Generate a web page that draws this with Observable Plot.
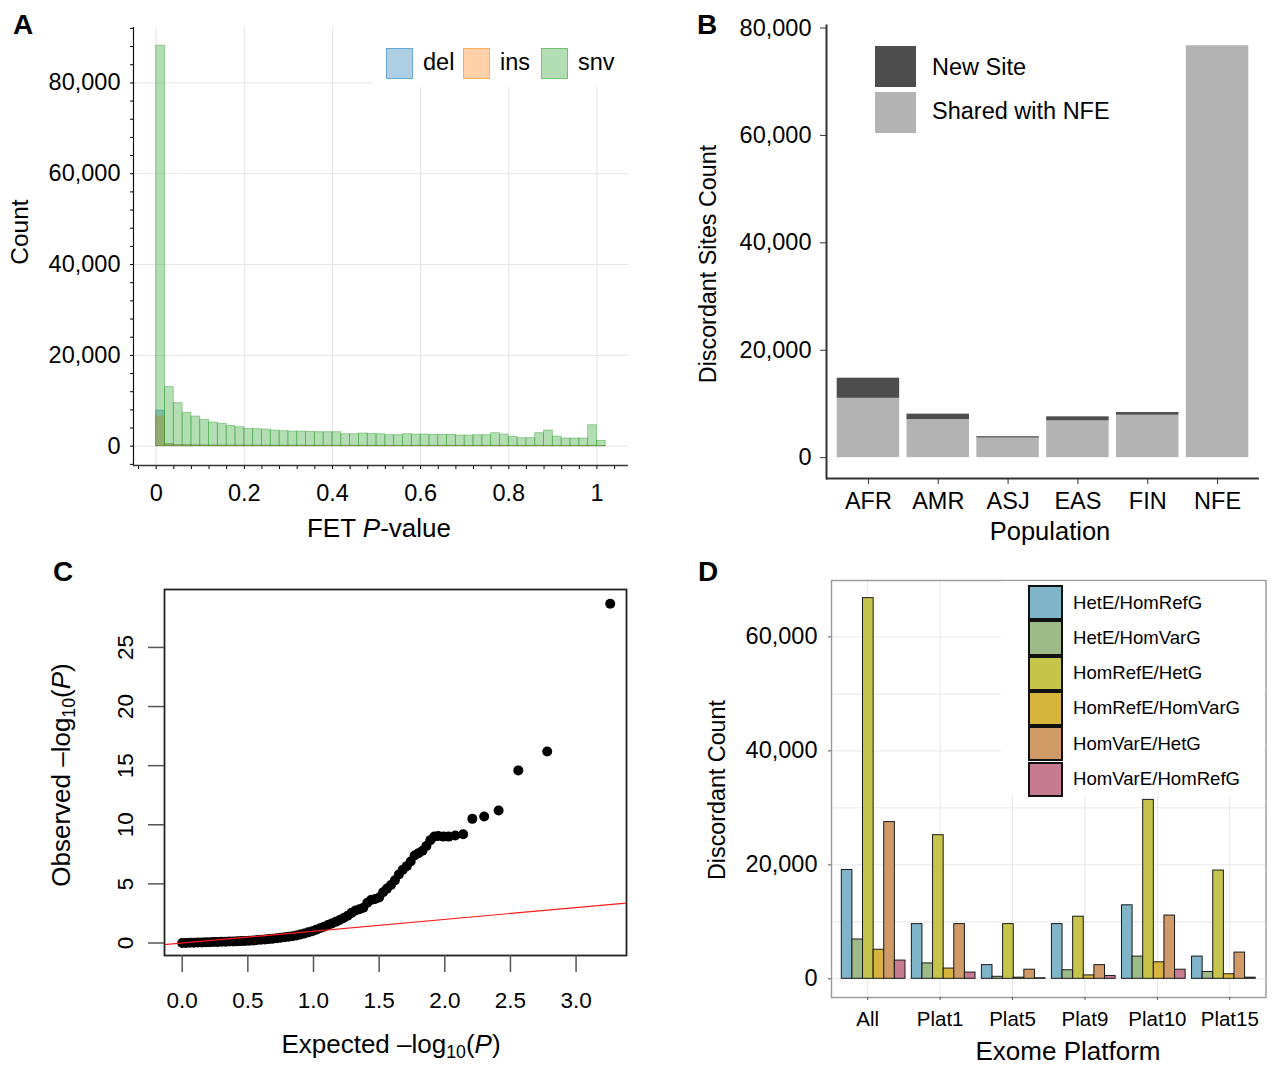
<!DOCTYPE html>
<html>
<head>
<meta charset="utf-8">
<script src="https://cdn.jsdelivr.net/npm/d3@7"></script>
<script src="https://cdn.jsdelivr.net/npm/@observablehq/plot@0.6"></script>
<style>
  body { margin: 0; background: #fff; }
  #fig { position: relative; width: 1280px; height: 1075px; overflow: hidden; background: #fff;
         font-family: "Liberation Sans", Arial, Helvetica, sans-serif; color: #000; }
  #fig sub { font-size: 0.68em; vertical-align: -0.28em; line-height: 0; }
</style>
</head>
<body>
<div id="fig"></div>
<script>
// ---------------- Panel A: FET P-value histogram ----------------
const histTypes = ["del", "ins", "snv"];
const histBase = ["#1f77b4", "#ff7f0e", "#2ca02c"];
const binWidth = 0.02;
const snvCounts = [88200, 13000, 9470, 7340, 6530, 5800, 5210, 4920, 4480, 4180,
                   3820, 3740, 3670, 3450, 3300, 3230, 3230, 3160, 3080, 3080,
                   3080, 2640, 2640, 2790, 2720, 2640, 2420, 2420, 2640, 2570,
                   2570, 2500, 2500, 2500, 2350, 2350, 2420, 2420, 2860, 2570,
                   2060, 1760, 1760, 2860, 3450, 2130, 1690, 1690, 1690, 4620, 1170];
const delCounts = [7850, 480, 260, 210, 190, 170, 160, 150, 140, 140,
                   130, 130, 120, 120, 120, 110, 110, 110, 110, 100,
                   100, 100, 100, 100, 100, 100, 90, 90, 90, 90,
                   90, 90, 90, 90, 90, 90, 90, 90, 90, 80,
                   80, 80, 80, 90, 80, 80, 80, 80, 80, 90, 60];
const insCounts = [6530, 380, 210, 170, 150, 140, 130, 120, 110, 110,
                   100, 100, 100, 90, 90, 90, 90, 90, 80, 80,
                   80, 80, 80, 80, 80, 80, 70, 70, 70, 70,
                   70, 70, 70, 70, 70, 70, 70, 70, 70, 70,
                   60, 60, 60, 70, 70, 60, 60, 60, 60, 70, 50];
const aXTicks = [-0.04, 0, 0.04, 0.08, 0.12, 0.16, 0.2, 0.24, 0.28, 0.32, 0.36, 0.4, 0.44, 0.48,
                 0.52, 0.56, 0.6, 0.64, 0.68, 0.72, 0.76, 0.8, 0.84, 0.88, 0.92, 0.96, 1, 1.04];
const aXLabels = [0, 0.2, 0.4, 0.6, 0.8, 1];
const aYTicks = [-4000, 0, 4000, 8000, 12000, 16000, 20000, 24000, 28000, 32000, 36000, 40000, 44000,
                 48000, 52000, 56000, 60000, 64000, 68000, 72000, 76000, 80000, 84000, 88000, 92000];
const aYLabels = [0, 20000, 40000, 60000, 80000];

// ---------------- Panel B: discordant sites by population ----------------
const populations = ["AFR", "AMR", "ASJ", "EAS", "FIN", "NFE"];
const sharedCounts = [11050, 7100, 3650, 6850, 7900, 76700];
const newCounts = [3750, 1000, 250, 750, 500, 0];
const siteTypes = ["New Site", "Shared with NFE"];
const siteColors = ["#4d4d4d", "#b3b3b3"];
const bYTicks = [0, 20000, 40000, 60000, 80000];

// ---------------- Panel C: QQ plot ----------------
const qqExpected = [0.00, 0.03, 0.06, 0.09, 0.12, 0.15, 0.18, 0.21, 0.24, 0.27, 0.30, 0.33, 0.36, 0.39, 0.42,
                    0.45, 0.48, 0.51, 0.54, 0.57, 0.60, 0.63, 0.66, 0.69, 0.72, 0.75, 0.78, 0.81, 0.84, 0.87,
                    0.90, 0.93, 0.96, 0.99, 1.02, 1.05, 1.08, 1.11, 1.14, 1.17, 1.20, 1.23, 1.26, 1.29, 1.32,
                    1.35, 1.38, 1.41, 1.44, 1.47, 1.50, 1.53, 1.56, 1.59, 1.62, 1.65, 1.68, 1.71, 1.74, 1.77,
                    1.80, 1.83, 1.86, 1.89, 1.92, 1.95, 1.99, 2.03, 2.08, 2.14, 2.21, 2.30, 2.41, 2.56, 2.78, 3.26];
const qqObserved = [0.00, 0.01, 0.02, 0.03, 0.04, 0.05, 0.06, 0.07, 0.08, 0.09, 0.10, 0.11, 0.12, 0.13, 0.14,
                    0.16, 0.18, 0.20, 0.22, 0.25, 0.27, 0.30, 0.33, 0.36, 0.40, 0.44, 0.48, 0.53, 0.58, 0.64,
                    0.72, 0.80, 0.90, 1.00, 1.12, 1.25, 1.38, 1.52, 1.66, 1.80, 1.95, 2.12, 2.30, 2.55, 2.75,
                    2.85, 2.98, 3.40, 3.65, 3.72, 3.85, 4.30, 4.60, 4.90, 5.30, 5.80, 6.20, 6.50, 6.90, 7.40,
                    7.60, 7.80, 8.20, 8.70, 9.00, 9.05, 9.00, 9.00, 9.10, 9.20, 10.5, 10.7, 11.2, 14.6, 16.2, 28.7];
const refLineX = [-0.5, 3.6];
const cXTicks = [0, 0.5, 1, 1.5, 2, 2.5, 3];
const cYTicks = [0, 5, 10, 15, 20, 25];

// ---------------- Panel D: discordance by exome platform ----------------
const platforms = ["All", "Plat1", "Plat5", "Plat9", "Plat10", "Plat15"];
const discordTypes = ["HetE/HomRefG", "HetE/HomVarG", "HomRefE/HetG", "HomRefE/HomVarG", "HomVarE/HetG", "HomVarE/HomRefG"];
const discordColors = ["#7fb4c9", "#9dbb88", "#c6c44b", "#d7b43c", "#d09a66", "#c67b90"];
const hetEHomRefG    = [19100, 9600, 2400, 9600, 12900, 3900];
const hetEHomVarG    = [6900, 2700, 350, 1500, 3900, 1200];
const homRefEHetG    = [66800, 25200, 9600, 10900, 31400, 19000];
const homRefEHomVarG = [5100, 1800, 200, 600, 2900, 800];
const homVarEHetG    = [27500, 9600, 1600, 2400, 11100, 4600];
const homVarEHomRefG = [3200, 1100, 100, 500, 1600, 200];
const dYTicks = [0, 20000, 40000, 60000];
const dGridTicks = [0, 10000, 20000, 30000, 40000, 50000, 60000];

// ================================================================
const FONT = '"Liberation Sans", Arial, Helvetica, sans-serif';
const fig = document.getElementById("fig");
const comma = d3.format(",");

function mount(svg, x, y) {
  svg.style.position = "absolute";
  svg.style.left = x + "px";
  svg.style.top = y + "px";
  fig.appendChild(svg);
}
function label(html, x, y, size, opts = {}) {
  const d = document.createElement("div");
  d.innerHTML = html;
  d.style.cssText = `position:absolute;left:${x}px;top:${y}px;font-size:${size}px;line-height:1.15;white-space:nowrap;` +
    `transform:translate(${opts.left ? "0" : "-50%"},-50%)${opts.rotate ? " rotate(-90deg)" : ""};` +
    (opts.bold ? "font-weight:bold;" : "");
  fig.appendChild(d);
  return d;
}
function box(x, y, w, h, css) {
  const d = document.createElement("div");
  d.style.cssText = `position:absolute;left:${x}px;top:${y}px;width:${w}px;height:${h}px;box-sizing:border-box;${css}`;
  fig.appendChild(d);
  return d;
}
function rgba(hex, a) {
  const c = d3.rgb(hex);
  return `rgba(${c.r},${c.g},${c.b},${a})`;
}
const svgStyle = {fontFamily: FONT, background: "transparent", overflow: "visible", color: "#000"};

// ---------- A ----------
const histCounts = {del: delCounts, ins: insCounts, snv: snvCounts};
const histRows = histTypes.flatMap(t => histCounts[t].map((c, i) => ({
  type: t, x1: i * binWidth, x2: (i + 1) * binWidth, count: c
})));
const aXDomain = [-0.0514, 1.0716];
const aYDomain = [-4250, 92200];
const plotA = Plot.plot({
  width: 640, height: 520,
  marginLeft: 133, marginRight: 12, marginTop: 27, marginBottom: 55,
  style: svgStyle,
  x: {domain: aXDomain},
  y: {domain: aYDomain},
  color: {domain: histTypes, range: histBase},
  marks: [
    Plot.gridX({ticks: aXLabels, stroke: "#e4e4e4", strokeOpacity: 1}),
    Plot.gridY({ticks: aYLabels, stroke: "#e4e4e4", strokeOpacity: 1}),
    Plot.rect(histRows, {x1: "x1", x2: "x2", y1: 0, y2: "count", fill: "type", fillOpacity: 0.36,
                         stroke: "type", strokeOpacity: 0.5, strokeWidth: 0.8}),
    Plot.axisX({ticks: aXTicks, tickSize: 4, tickPadding: 15, fontSize: 23.5, label: null,
                tickFormat: d => (aXLabels.some(v => Math.abs(v - d) < 1e-9) ? String(+d.toFixed(2)) : "")}),
    Plot.axisY({ticks: aYTicks, tickSize: 3, tickPadding: 10, fontSize: 23.5, label: null,
                tickFormat: d => (aYLabels.includes(d) ? comma(d) : "")}),
    Plot.ruleX([aXDomain[0]], {stroke: "#111", strokeWidth: 1.2}),
    Plot.ruleY([aYDomain[0]], {stroke: "#333", strokeWidth: 1.6})
  ]
});
mount(plotA, 0, 0);

// ---------- B ----------
const stackRows = [
  ...populations.map((p, i) => ({pop: p, type: "Shared with NFE", value: sharedCounts[i]})),
  ...populations.map((p, i) => ({pop: p, type: "New Site", value: newCounts[i]}))
];
const bYDomain = [-3880, 80470];
const plotB = Plot.plot({
  width: 640, height: 560,
  marginLeft: 186, marginRight: 21, marginTop: 25, marginBottom: 82,
  style: svgStyle,
  x: {domain: populations, paddingInner: 0.105, paddingOuter: 0.153, round: false},
  y: {domain: bYDomain},
  color: {domain: siteTypes, range: siteColors},
  marks: [
    Plot.barY(stackRows, {x: "pop", y: "value", fill: "type"}),
    Plot.axisX({tickSize: 6, tickPadding: 8, fontSize: 23.5, label: null, stroke: "#333"}),
    Plot.axisY({ticks: bYTicks, tickSize: 6, tickPadding: 9, fontSize: 23.5, label: null,
                tickFormat: comma, stroke: "#333"}),
    Plot.frame({anchor: "left", stroke: "#333", strokeWidth: 2}),
    Plot.ruleY([bYDomain[0]], {stroke: "#333", strokeWidth: 2})
  ]
});
mount(plotB, 640, 0);

// ---------- C ----------
const qqRows = qqExpected.map((e, i) => ({e, o: qqObserved[i]}));
const plotC = Plot.plot({
  width: 640, height: 535,
  marginLeft: 164, marginRight: 14, marginTop: 49, marginBottom: 120,
  style: svgStyle,
  x: {domain: [-0.1348, 3.384]},
  y: {domain: [-1.057, 29.9]},
  marks: [
    Plot.dot(qqRows, {x: "e", y: "o", r: 5, fill: "#000", stroke: "none"}),
    Plot.line(refLineX, {x: d => d, y: d => d, stroke: "#ff1a1a", strokeWidth: 1.2, clip: true}),
    Plot.frame({stroke: "#222", strokeWidth: 1.8}),
    Plot.axisX({ticks: cXTicks, tickSize: 17, tickPadding: 20, fontSize: 22.5, label: null,
                tickFormat: d3.format(".1f"), stroke: "#555", strokeWidth: 1.5}),
    Plot.axisY({ticks: cYTicks, tickSize: 16, tickFormat: () => "", label: null, stroke: "#555", strokeWidth: 1.5}),
    Plot.text(cYTicks, {y: d => d, text: d => String(d), frameAnchor: "left", dx: -39, rotate: -90,
                        fontSize: 22.5, textAnchor: "middle", lineAnchor: "middle"})
  ]
});
mount(plotC, 0, 540);

// ---------- D ----------
const dSeries = [hetEHomRefG, hetEHomVarG, homRefEHetG, homRefEHomVarG, homVarEHetG, homVarEHomRefG];
const dRows = platforms.flatMap((p, i) => discordTypes.map((t, k) => ({platform: p, type: t, value: dSeries[k][i]})));
const dYDomain = [-3280, 69900];
const dLayout = {width: 640, height: 535, marginLeft: 191, marginRight: 14.5, marginTop: 40, marginBottom: 78};
const dBand = {paddingInner: 0.091, paddingOuter: 0.147, round: false};
const plotDBack = Plot.plot({
  ...dLayout,
  style: svgStyle,
  x: {domain: platforms, ...dBand},
  y: {domain: dYDomain},
  marks: [
    Plot.gridY({ticks: dGridTicks, stroke: "#e8e8e8", strokeOpacity: 1}),
    Plot.gridX({stroke: "#e8e8e8", strokeOpacity: 1}),
    Plot.frame({stroke: "#999", strokeWidth: 1.4}),
    Plot.axisY({ticks: dYTicks, tickSize: 3, tickPadding: 11, fontSize: 23.5, label: null,
                tickFormat: comma, stroke: "#555"}),
    Plot.axisX({tickSize: 3, tickPadding: 11, fontSize: 20.5, label: null, stroke: "#555"})
  ]
});
mount(plotDBack, 640, 540);

// D legend background sits between the grid layer and the bars
box(1001, 581, 263, 215, "background:#fff;");

const plotDFront = Plot.plot({
  ...dLayout,
  style: svgStyle,
  fx: {domain: platforms, ...dBand, axis: null, label: null},
  x: {domain: discordTypes, padding: 0, round: false, axis: null},
  y: {domain: dYDomain, axis: null},
  color: {domain: discordTypes, range: discordColors},
  marks: [
    Plot.barY(dRows, {fx: "platform", x: "type", y: "value", fill: "type", stroke: "#1a1a1a", strokeWidth: 1})
  ]
});
mount(plotDFront, 640, 540);

// ---------- Legends ----------
// A legend
box(372, 27, 258, 60, "background:#fff;");
const aLegendX = [386, 463, 541];
histTypes.forEach((t, i) => {
  box(aLegendX[i], 48, 27, 31, `background:${rgba(histBase[i], 0.36)};border:1px solid ${rgba(histBase[i], 0.45)};`);
  label(t, aLegendX[i] + 37, 63, 23.5, {left: true});
});
// B legend
box(875, 46, 41, 41, `background:${siteColors[0]};`);
box(875, 92, 41, 41, `background:${siteColors[1]};`);
label(siteTypes[0], 932, 68, 23.5, {left: true});
label(siteTypes[1], 932, 112, 23.5, {left: true});
// D legend entries
discordTypes.forEach((t, i) => {
  box(1028, 585 + i * 35.3, 35, 35.3, `background:${discordColors[i]};border:2.5px solid #111;`);
  label(t, 1073, 602.5 + i * 35.3, 18.6, {left: true});
});

// ---------- Titles & panel letters ----------
label("A", 23, 25, 28, {bold: true});
label("B", 707, 25, 28, {bold: true});
label("C", 63, 572, 28, {bold: true});
label("D", 708, 572, 28, {bold: true});

label("Count", 20, 232, 24.5, {rotate: true});
label("FET <i>P</i>-value", 379, 529, 26);

label("Discordant Sites Count", 708, 264, 23.3, {rotate: true});
label("Population", 1050, 532, 25.5);

label("Observed \u2013log<sub>10</sub>(<i>P</i>)", 62, 775, 26, {rotate: true});
label("Expected \u2013log<sub>10</sub>(<i>P</i>)", 391, 1045, 26);

label("Discordant Count", 717, 790, 23.3, {rotate: true});
label("Exome Platform", 1068, 1052, 26);
</script>
</body>
</html>
